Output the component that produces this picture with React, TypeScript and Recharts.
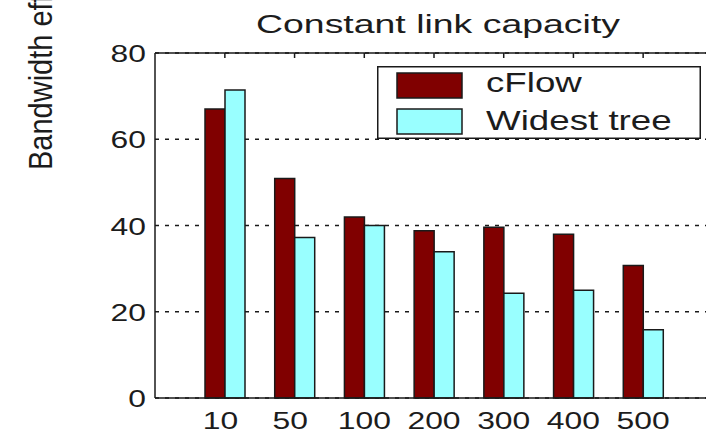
import { BarChart, Bar, XAxis, YAxis, CartesianGrid } from 'recharts'

const categories = ['10', '50', '100', '200', '300', '400', '500']
const cflow = [67.0, 50.9, 42.0, 38.8, 39.6, 38.0, 30.7]
const widestTree = [71.4, 37.2, 40.0, 33.9, 24.3, 25.0, 15.8]
const yTicks = [0, 20, 40, 60, 80]
const seriesNames = ['cFlow', 'Widest tree']
const seriesColors = ['#800000', '#99ffff']

const data = categories.map((c, i) => ({ size: c, cflow: cflow[i], widest: widestTree[i] }))

const FONT = '"Liberation Sans", Arial, Helvetica, sans-serif'
const INK = '#1c1c1c'
const EDGE = '#1a1a1a'

function BottomTick({ x, y, payload }: any) {
  return (
    <g transform={`translate(${x},${y + 31}) scale(1.3,1)`}>
      <text x={0} y={0} textAnchor="middle" fontSize={24.5} fontFamily={FONT} fill={INK} xmlSpace="preserve">
        {String(payload.value).padEnd(3, ' ')}
      </text>
    </g>
  )
}

function TopTick({ x, y }: any) {
  return <line x1={x} y1={y} x2={x} y2={y + 5} stroke={EDGE} strokeWidth={1.5} />
}

function LeftTick({ x, y, payload }: any) {
  return (
    <g transform={`translate(${x - 9},${y + 9}) scale(1.3,1)`}>
      <text x={0} y={0} textAnchor="end" fontSize={24.5} fontFamily={FONT} fill={INK}>
        {payload.value}
      </text>
    </g>
  )
}

function YTitle() {
  return (
    <g transform="translate(52,170) scale(1.15,1) rotate(-90)">
      <text x={0} y={0} textAnchor="start" fontSize={29} fontFamily={FONT} fill={INK}>
        Bandwidth efficiency (%)
      </text>
    </g>
  )
}

function ChartTitle() {
  return (
    <svg width={706} height={50} style={{ position: 'absolute', left: 0, top: 0 }}>
      <g transform="translate(438,33) scale(1.44,1)">
        <text x={0} y={0} textAnchor="middle" fontSize={26} fontFamily={FONT} fill={INK}>
          Constant link capacity
        </text>
      </g>
    </svg>
  )
}

function LegendBox() {
  return (
    <svg width={324} height={73} style={{ position: 'absolute', left: 377, top: 66 }}>
      <rect x={0.75} y={0.75} width={322.5} height={71.5} fill="#fff" stroke={EDGE} strokeWidth={1.5} />
      {seriesNames.map((name, i) => (
        <g key={name}>
          <rect x={20} y={7 + i * 36} width={65} height={25} fill={seriesColors[i]} stroke={EDGE} strokeWidth={1.5} />
          <g transform={`translate(109,${26 + i * 38}) scale(1.36,1)`}>
            <text x={0} y={0} fontSize={27} fontFamily={FONT} fill={INK}>{name}</text>
          </g>
        </g>
      ))}
    </svg>
  )
}

export default function App() {
  return (
    <div style={{ position: 'absolute', left: 0, top: 0, width: 706, height: 438, overflow: 'hidden', background: '#fff' }}>
      <BarChart
        width={714}
        height={438}
        data={data}
        margin={{ top: 52, right: 1, bottom: 0, left: 0 }}
        barGap={0}
      >
        <CartesianGrid
          xAxisId="bottom"
          vertical={false}
          stroke={EDGE}
          strokeWidth={1.4}
          strokeDasharray="4 6"
        />
        <XAxis
          xAxisId="top"
          orientation="top"
          dataKey="size"
          height={1}
          padding={{ left: 35, right: 35 }}
          tickSize={0}
          tickMargin={0}
          tickLine={false}
          tick={<TopTick />}
          axisLine={{ stroke: EDGE, strokeWidth: 1.5 }}
        />
        <XAxis
          xAxisId="bottom"
          dataKey="size"
          height={40}
          padding={{ left: 35, right: 35 }}
          tickSize={0}
          tickMargin={0}
          tickLine={false}
          tick={<BottomTick />}
          axisLine={{ stroke: EDGE, strokeWidth: 1.5 }}
        />
        <YAxis
          width={155}
          domain={[0, 80]}
          ticks={yTicks}
          interval={0}
          tickSize={0}
          tickMargin={0}
          tickLine={false}
          tick={<LeftTick />}
          axisLine={{ stroke: EDGE, strokeWidth: 1.5 }}
          label={{ content: <YTitle /> }}
        />
        <Bar xAxisId="bottom" dataKey="cflow" name={seriesNames[0]} fill={seriesColors[0]} stroke={EDGE} strokeWidth={1.5} barSize={20} isAnimationActive={false} />
        <Bar xAxisId="bottom" dataKey="widest" name={seriesNames[1]} fill={seriesColors[1]} stroke={EDGE} strokeWidth={1.5} barSize={20} isAnimationActive={false} />
      </BarChart>
      <ChartTitle />
      <LegendBox />
    </div>
  )
}
